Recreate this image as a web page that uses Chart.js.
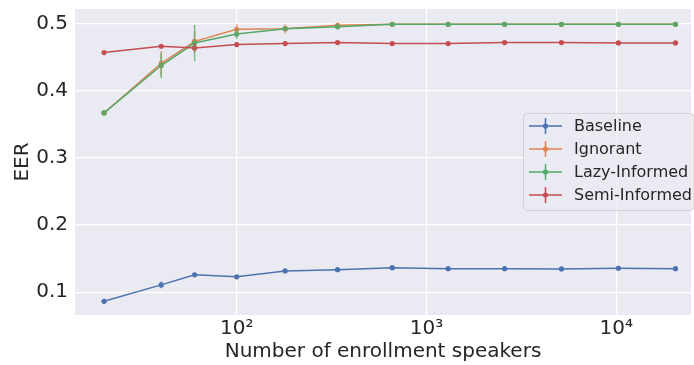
<!DOCTYPE html>
<html>
<head>
<meta charset="utf-8">
<script src="https://cdn.jsdelivr.net/npm/chart.js@4.4.1/dist/chart.umd.min.js"></script>
<style>
  html, body { margin: 0; padding: 0; background: #fff; }
</style>
</head>
<body>
<canvas id="chart" width="694" height="365"></canvas>
<script>
// values
var SPEAKERS = [20, 40, 60, 100, 180, 340, 660, 1300, 2580, 5140, 10260, 20500];

var BASELINE     = [0.0866, 0.111, 0.126, 0.123, 0.1317, 0.1336, 0.1366, 0.1351, 0.1351, 0.1347, 0.1357, 0.1351];
var IGNORANT     = [0.3667, 0.4406, 0.4732, 0.4911, 0.492, 0.497, 0.4985, 0.4985, 0.4985, 0.4985, 0.4985, 0.4985];
var LAZY         = [0.3667, 0.4372, 0.4707, 0.484, 0.492, 0.495, 0.4985, 0.4985, 0.4985, 0.4985, 0.4985, 0.4985];
var SEMI         = [0.4565, 0.4659, 0.4634, 0.4684, 0.4699, 0.4714, 0.4699, 0.4699, 0.4714, 0.4714, 0.4709, 0.4709];

// half widths of the error bars
var BASELINE_ERR = [0.001, 0.005, 0.002, 0.002, 0.001, 0.001, 0.001, 0.001, 0.001, 0.001, 0.001, 0.001];
var IGNORANT_ERR = [0.001, 0.018, 0.015, 0.0075, 0.0067, 0.004, 0.001, 0.001, 0.001, 0.001, 0.001, 0.001];
var LAZY_ERR     = [0.001, 0.019, 0.027, 0.0075, 0.003, 0.004, 0.001, 0.001, 0.001, 0.001, 0.001, 0.001];
var SEMI_ERR     = [0.001, 0.002, 0.006, 0.002, 0.001, 0.001, 0.001, 0.001, 0.001, 0.001, 0.001, 0.001];

var SERIES_NAMES = ['Baseline', 'Ignorant', 'Lazy-Informed', 'Semi-Informed'];
var X_TICKS = [100, 1000, 10000];
var X_TICK_LABELS = ['10\u00b2', '10\u00b3', '10\u2074'];
var Y_TICKS = [0.1, 0.2, 0.3, 0.4, 0.5];

// seaborn "deep"
var COLOURS = ['#4C72B0', '#DD8452', '#55A868', '#C44E52'];
var FONT = '"DejaVu Sans", sans-serif';
var TEXT = '#262626';

var series = [BASELINE, IGNORANT, LAZY, SEMI];
var errors = [BASELINE_ERR, IGNORANT_ERR, LAZY_ERR, SEMI_ERR];

function make_datasets() {
  return series.map(function (vals, i) {
    return {
      label: SERIES_NAMES[i],
      data: vals.map(function (v, j) { return { x: SPEAKERS[j], y: v }; }),
      err: errors[i],
      borderColor: COLOURS[i],
      backgroundColor: COLOURS[i],
      borderWidth: 1.5,
      pointRadius: 2.6,
      pointBorderWidth: 0,
      pointHoverRadius: 2.6,
      order: 3 - i  // later series on top, like matplotlib
    };
  });
}

// grey plot face
var facePlugin = {
  id: 'face',
  beforeDraw: function (chart) {
    var a = chart.chartArea, ctx = chart.ctx;
    ctx.save();
    ctx.fillStyle = '#EAEAF2';
    ctx.fillRect(a.left, a.top, a.right - a.left, a.bottom - a.top);
    ctx.restore();
  }
};

// vertical error bars through the scales
var errorPlugin = {
  id: 'errbars',
  afterDatasetsDraw: function (chart) {
    var ctx = chart.ctx, xs = chart.scales.x, ys = chart.scales.y;
    ctx.save();
    ctx.lineWidth = 1.5;
    ctx.globalAlpha = 0.75;
    chart.data.datasets.forEach(function (ds) {
      ctx.strokeStyle = ds.borderColor;
      ds.data.forEach(function (p, j) {
        var e = ds.err[j];
        var px = xs.getPixelForValue(p.x);
        ctx.beginPath();
        ctx.moveTo(px, ys.getPixelForValue(p.y - e));
        ctx.lineTo(px, ys.getPixelForValue(p.y + e));
        ctx.stroke();
      });
    });
    ctx.restore();
  }
};

// matplotlib-like legend box inside the axes
var legendPlugin = {
  id: 'mplLegend',
  afterDraw: function (chart) {
    var ctx = chart.ctx;
    var left = 523, top = 113, w = 170.5, h = 97;
    ctx.save();
    ctx.globalAlpha = 0.8;
    ctx.fillStyle = '#EAEAF2';
    ctx.strokeStyle = '#CCCCCC';
    ctx.lineWidth = 1;
    ctx.beginPath();
    ctx.roundRect(left + 0.5, top + 0.5, w, h, 4);
    ctx.fill();
    ctx.stroke();
    ctx.globalAlpha = 1;
    ctx.font = '16px ' + FONT;
    ctx.textBaseline = 'middle';
    ctx.fillStyle = TEXT;
    chart.data.datasets.forEach(function (ds, i) {
      var y = 126 + i * 23;
      ctx.strokeStyle = ds.borderColor;
      ctx.lineWidth = 1.5;
      ctx.beginPath();
      ctx.moveTo(529, y); ctx.lineTo(562, y);
      ctx.moveTo(545.5, y - 8); ctx.lineTo(545.5, y + 8);
      ctx.stroke();
      ctx.fillStyle = ds.borderColor;
      ctx.beginPath();
      ctx.arc(545.5, y, 2.6, 0, Math.PI * 2);
      ctx.fill();
      ctx.fillStyle = TEXT;
      ctx.fillText(ds.label, 574, y + 1);
    });
    ctx.restore();
  }
};

var chart = new Chart(document.getElementById('chart').getContext('2d'), {
  type: 'line',
  data: { datasets: make_datasets() },
  plugins: [facePlugin, errorPlugin, legendPlugin],
  options: {
    responsive: false,
    devicePixelRatio: 1,
    animation: false,
    layout: { padding: { left: 0, right: 3, top: 9, bottom: 0 } },
    plugins: { legend: { display: false }, tooltip: { enabled: false } },
    scales: {
      x: {
        type: 'logarithmic',
        min: 14.06,
        max: 24750,
        afterBuildTicks: function (scale) {
          scale.ticks = X_TICKS.map(function (v) { return { value: v, major: true }; });
        },
        afterFit: function (scale) {
          scale.height = 50;
          scale.paddingLeft = 0;
          scale.paddingRight = 0;
        },
        ticks: {
          autoSkip: false,
          maxRotation: 0,
          padding: 2,
          color: TEXT,
          font: { family: FONT, size: 20 },
          callback: function (v) {
            var k = X_TICKS.indexOf(v);
            return k < 0 ? '' : X_TICK_LABELS[k];
          }
        },
        grid: { color: '#FFFFFF', lineWidth: 1.2, drawTicks: false },
        border: { display: false },
        title: {
          display: true,
          text: 'Number of enrollment speakers',
          color: TEXT,
          font: { family: FONT, size: 20 },
          padding: { top: 0, bottom: 1 }
        }
      },
      y: {
        min: 0.0662,
        max: 0.5213,
        afterBuildTicks: function (scale) {
          scale.ticks = Y_TICKS.map(function (v) { return { value: v }; });
        },
        afterFit: function (scale) {
          scale.width = 75;
          scale.paddingTop = 0;
          scale.paddingBottom = 0;
        },
        ticks: {
          padding: 7,
          color: TEXT,
          font: { family: FONT, size: 20 },
          callback: function (v) { return v.toFixed(1); }
        },
        grid: { color: '#FFFFFF', lineWidth: 1.2, drawTicks: false },
        border: { display: false },
        title: {
          display: true,
          text: 'EER',
          color: TEXT,
          font: { family: FONT, size: 20 },
          padding: { top: 11, bottom: 0 }
        }
      }
    }
  }
});
</script>
</body>
</html>
